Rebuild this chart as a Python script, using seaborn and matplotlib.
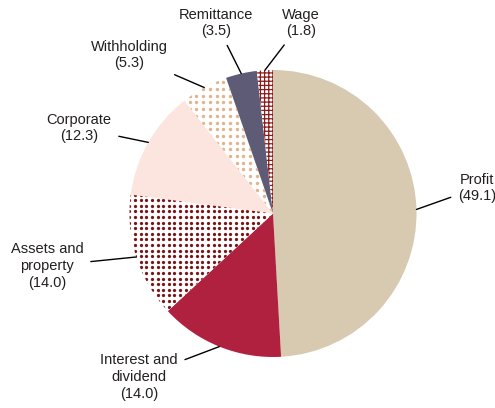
import matplotlib
matplotlib.use('Agg')
import matplotlib.pyplot as plt
import seaborn as sns
import numpy as np

# tax categories and shares (%)
categories = ['Profit', 'Interest and\ndividend', 'Assets and\nproperty', 'Corporate',
              'Withholding', 'Remittance', 'Wage']
shares = [49.1, 14.0, 14.0, 12.3, 5.3, 3.5, 1.8]

# styling per slice
face_colors = ['#d8c9b1', '#b02140', 'white', '#fce4df', 'white', '#5d5b75', 'white']
hatch_colors = ['#d8c9b1', '#b02140', 'white', '#fce4df', 'white', '#5d5b75', '#8b1a1a']
hatches = [None, None, None, None, None, None, '++++']
# dotted fills: slice index -> (dot colour, spacing px, dot size)
dot_fills = {2: ('#7a1518', 5.6, 5.5), 4: ('#e0b48c', 6.7, 6.0)}

# label text centres in pixels (x from left, y from top)
label_px = [(477, 188), (139, 377), (47, 266), (79, 128), (129, 55), (216, 23), (301, 23)]

sns.set_theme(style='white')
plt.rcParams['font.family'] = ['Liberation Sans', 'DejaVu Sans']
plt.rcParams['hatch.linewidth'] = 0.9

W, H = 495, 408
cx, cy, R = 273, 213.5, 143.5

fig = plt.figure(figsize=(W / 100, H / 100), dpi=100)
ax = fig.add_axes([0, 0, 1, 1])

wedges, _ = ax.pie(shares, startangle=90, counterclock=False, radius=1,
                   colors=face_colors, wedgeprops=dict(linewidth=0))
for w, hc, h in zip(wedges, hatch_colors, hatches):
    w.set_edgecolor(hc)
    w.set_linewidth(0)
    if h:
        w.set_hatch(h)

# dot textures clipped to their slice
for i, (dc, sp, sz) in dot_fills.items():
    g = np.arange(-1, 1.0001, sp / R)
    gx, gy = np.meshgrid(g, g)
    sc = ax.scatter(gx.ravel(), gy.ravel(), s=sz, color=dc, linewidths=0, zorder=3)
    sc.set_clip_path(wedges[i])

ax.set_xlim(-cx / R, (W - cx) / R)
ax.set_ylim(-(H - cy) / R, cy / R)
ax.set_aspect('equal')
ax.axis('off')

for w, cat, val, (px, py) in zip(wedges, categories, shares, label_px):
    ang = np.deg2rad((w.theta1 + w.theta2) / 2)
    xy = (np.cos(ang), np.sin(ang))
    xt = ((px - cx) / R, (cy - py) / R)
    ax.annotate(f'{cat}\n({val:.1f})', xy=xy, xytext=xt, ha='center', va='center',
                fontsize=10.5, color='#231f20', linespacing=1.25,
                arrowprops=dict(arrowstyle='-', color='black', lw=1.0,
                                shrinkA=3, shrinkB=0))

fig.savefig('out.png', dpi=100)
